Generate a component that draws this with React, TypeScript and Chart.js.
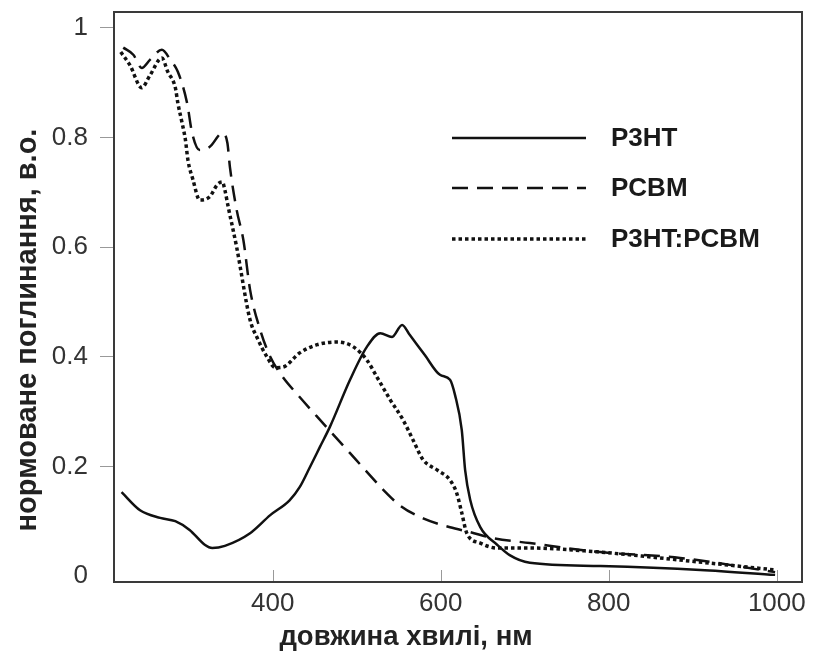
import { useEffect, useRef } from "react";
import { Chart, registerables } from "chart.js";
Chart.register(...registerables);

// wavelength (nm) and normalised absorbance values
const p3htNm = [220, 242, 266, 284, 301, 319, 328, 343, 373, 397, 420, 432, 444, 456, 468, 492, 512, 528, 542, 554, 563, 581, 599, 611, 617, 625, 629, 635, 647, 667, 682, 706, 790, 909, 998];
const p3htVal = [0.153, 0.12, 0.106, 0.1, 0.084, 0.057, 0.051, 0.055, 0.078, 0.111, 0.138, 0.162, 0.198, 0.235, 0.272, 0.358, 0.418, 0.443, 0.436, 0.458, 0.44, 0.403, 0.367, 0.358, 0.33, 0.266, 0.193, 0.139, 0.089, 0.057, 0.038, 0.024, 0.018, 0.011, 0.002];

const pcbmNm = [222, 234, 244, 254, 268, 278, 287, 298, 304, 313, 325, 340, 346, 349, 357, 365, 373, 385, 397, 411, 430, 452, 472, 492, 512, 531, 552, 579, 611, 635, 662, 706, 786, 885, 998];
const pcbmVal = [0.964, 0.951, 0.927, 0.942, 0.96, 0.942, 0.92, 0.863, 0.808, 0.777, 0.783, 0.808, 0.79, 0.746, 0.668, 0.613, 0.522, 0.449, 0.4, 0.365, 0.33, 0.292, 0.258, 0.224, 0.19, 0.158, 0.128, 0.105, 0.089, 0.08, 0.069, 0.06, 0.044, 0.033, 0.007];

const blendNm = [219, 230, 244, 254, 268, 275, 284, 287, 292, 296, 299, 305, 313, 325, 334, 340, 343, 347, 352, 357, 373, 381, 393, 403, 412, 432, 453, 477, 496, 512, 524, 540, 555, 567, 579, 596, 611, 619, 625, 631, 647, 667, 706, 786, 885, 998];
const blendVal = [0.956, 0.932, 0.891, 0.914, 0.945, 0.92, 0.891, 0.863, 0.827, 0.796, 0.759, 0.723, 0.686, 0.692, 0.714, 0.719, 0.704, 0.673, 0.637, 0.6, 0.467, 0.436, 0.4, 0.38, 0.381, 0.407, 0.422, 0.427, 0.418, 0.394, 0.363, 0.321, 0.285, 0.248, 0.212, 0.193, 0.175, 0.151, 0.115, 0.078, 0.06, 0.051, 0.051, 0.044, 0.029, 0.011];

const seriesNames = ["P3HT", "PCBM", "P3HT:PCBM"];
const xTickValues = [400, 600, 800, 1000];
const yTickValues = [0, 0.2, 0.4, 0.6, 0.8, 1];
const yTickLabels = ["0", "0.2", "0.4", "0.6", "0.8", "1"];
const xTitle = "довжина хвилі, нм";
const yTitle = "нормоване поглинання, в.о.";

const FONT = "'Liberation Sans', Arial, sans-serif";

const toPoints = (xs: number[], ys: number[]) => xs.map((x, i) => ({ x, y: ys[i] }));

const framePlugin = {
  id: "frameAndExtras",
  afterDatasetsDraw(chart: any) {
    const { ctx, chartArea } = chart;
    const xs = chart.scales.x;
    ctx.save();
    // inner x ticks
    ctx.strokeStyle = "#999";
    ctx.lineWidth = 1;
    for (const t of xs.ticks) {
      const px = Math.round(xs.getPixelForValue(t.value)) + 0.5;
      ctx.beginPath();
      ctx.moveTo(px, chartArea.bottom);
      ctx.lineTo(px, chartArea.bottom - 12);
      ctx.stroke();
    }
    // frame
    ctx.strokeStyle = "#3a3a3a";
    ctx.lineWidth = 2;
    ctx.strokeRect(chartArea.left, chartArea.top, chartArea.right - chartArea.left, chartArea.bottom - chartArea.top);
    ctx.restore();
  },
  afterDraw(chart: any) {
    const { ctx } = chart;
    ctx.save();
    // legend
    const rows = [138, 188, 239];
    chart.data.datasets.forEach((ds: any, i: number) => {
      const y = rows[i];
      ctx.strokeStyle = ds.borderColor;
      ctx.lineWidth = ds.borderWidth;
      ctx.setLineDash(ds.borderDash || []);
      ctx.beginPath();
      ctx.moveTo(452, y);
      ctx.lineTo(586, y);
      ctx.stroke();
      ctx.setLineDash([]);
      ctx.fillStyle = "#1a1a1a";
      ctx.font = `bold 26px ${FONT}`;
      ctx.textAlign = "left";
      ctx.textBaseline = "middle";
      ctx.fillText(ds.label, 611, y + 1);
    });
    // axis titles
    ctx.fillStyle = "#222";
    ctx.textAlign = "center";
    ctx.textBaseline = "middle";
    ctx.font = `bold 27.5px ${FONT}`;
    ctx.fillText(xTitle, 406, 637);
    ctx.font = `bold 29px ${FONT}`;
    ctx.translate(28, 330);
    ctx.rotate(-Math.PI / 2);
    ctx.fillText(yTitle, 0, 0);
    ctx.restore();
  },
};

const zeroPadding = (s: any) => {
  s.paddingTop = 0;
  s.paddingBottom = 0;
  s.paddingLeft = 0;
  s.paddingRight = 0;
};

export default function App() {
  const ref = useRef<HTMLCanvasElement>(null);
  useEffect(() => {
    const common = { borderColor: "#111", pointRadius: 0, fill: false, cubicInterpolationMode: "monotone" as const };
    const chart = new Chart(ref.current!, {
      type: "line",
      data: {
        datasets: [
          { ...common, label: seriesNames[0], data: toPoints(p3htNm, p3htVal), borderWidth: 2.5 },
          { ...common, label: seriesNames[1], data: toPoints(pcbmNm, pcbmVal), borderWidth: 2.5, borderDash: [16, 9] },
          { ...common, label: seriesNames[2], data: toPoints(blendNm, blendVal), borderWidth: 3.5, borderDash: [3.5, 3] },
        ],
      },
      options: {
        responsive: false,
        animation: false,
        layout: { padding: { top: 12, right: 11, left: 0, bottom: 0 } },
        plugins: { legend: { display: false }, tooltip: { enabled: false } },
        scales: {
          x: {
            type: "linear",
            min: 211,
            max: 1030,
            afterBuildTicks: (s: any) => {
              s.ticks = xTickValues.map((v) => ({ value: v }));
            },
            afterFit: (s: any) => {
              s.height = 72;
              zeroPadding(s);
            },
            grid: { display: false, drawTicks: false },
            border: { display: false },
            ticks: {
              font: { family: FONT, size: 26 },
              color: "#333",
              padding: 6,
              maxRotation: 0,
              callback: (v: any) => String(v),
            },
          },
          y: {
            type: "linear",
            min: -0.011,
            max: 1.029,
            afterBuildTicks: (s: any) => {
              s.ticks = yTickValues.map((v) => ({ value: v }));
            },
            afterFit: (s: any) => {
              s.width = 114;
              zeroPadding(s);
            },
            grid: {
              drawOnChartArea: false,
              drawTicks: true,
              tickLength: 14,
              color: (c: any) => (c.tick && c.tick.value === 0 ? "rgba(0,0,0,0)" : "#999"),
            },
            border: { display: false },
            ticks: {
              font: { family: FONT, size: 26 },
              color: "#333",
              padding: 12,
              callback: (v: any) => {
                const i = yTickValues.indexOf(Number(v));
                return i >= 0 ? yTickLabels[i] : "";
              },
            },
          },
        },
      },
      plugins: [framePlugin],
    });
    return () => chart.destroy();
  }, []);
  return (
    <div style={{ position: "absolute", left: 0, top: 0, width: 813, height: 654, background: "#fff" }}>
      <canvas ref={ref} width={813} height={654} />
    </div>
  );
}
